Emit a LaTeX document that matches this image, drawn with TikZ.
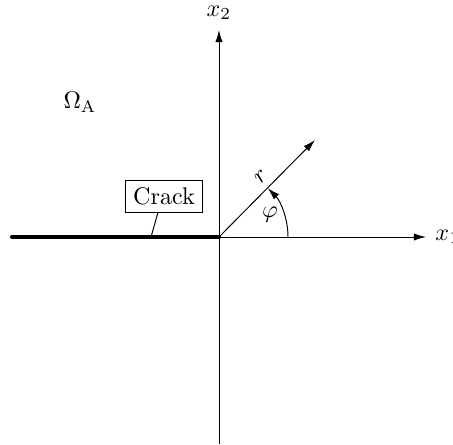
\documentclass[tikz,border=0pt]{standalone}
\usetikzlibrary{arrows.meta}
\begin{document}
\begin{tikzpicture}[x=0.415pt,y=0.415pt,
  axis/.style={-{Latex[length=5pt,width=3pt]},line width=0.4pt},
  crackline/.style={line width=1.7pt,line cap=round},
  labelbox/.style={draw,line width=0.4pt,inner sep=3pt}]
\useasboundingbox (0,0) rectangle (453,444);
\coordinate (O) at (219,207);
\coordinate (xend) at (426,207);
\coordinate (ybot) at (219,0);
\coordinate (yend) at (219,414);
\coordinate (cl) at (12,207);
\coordinate (rend) at (315,304);
\coordinate (lead) at (151,207);
\draw[axis] (ybot) -- (yend);
\draw[axis] (O) -- (xend);
\node[anchor=west,inner sep=0pt] (x1) at (435,207) {$x_1$};
\node[inner sep=0pt] (x2) at (219,431) {$x_2$};
\draw[crackline] (cl) -- (O);
\node[labelbox] (crack) at (164,248) {Crack};
\draw[line width=0.4pt] ([xshift=-6*0.415pt]crack.south) -- (lead);
\node (omega) at (80,342) {$\Omega_{\mathrm{A}}$};
\draw[axis] (O) -- (rend);
\node[rotate=45] (r) at (261,267) {$r$};
\draw[axis] (288,207) arc[start angle=0,end angle=45,radius=69];
\node (phi) at (270,229) {$\varphi$};
\end{tikzpicture}
\end{document}
